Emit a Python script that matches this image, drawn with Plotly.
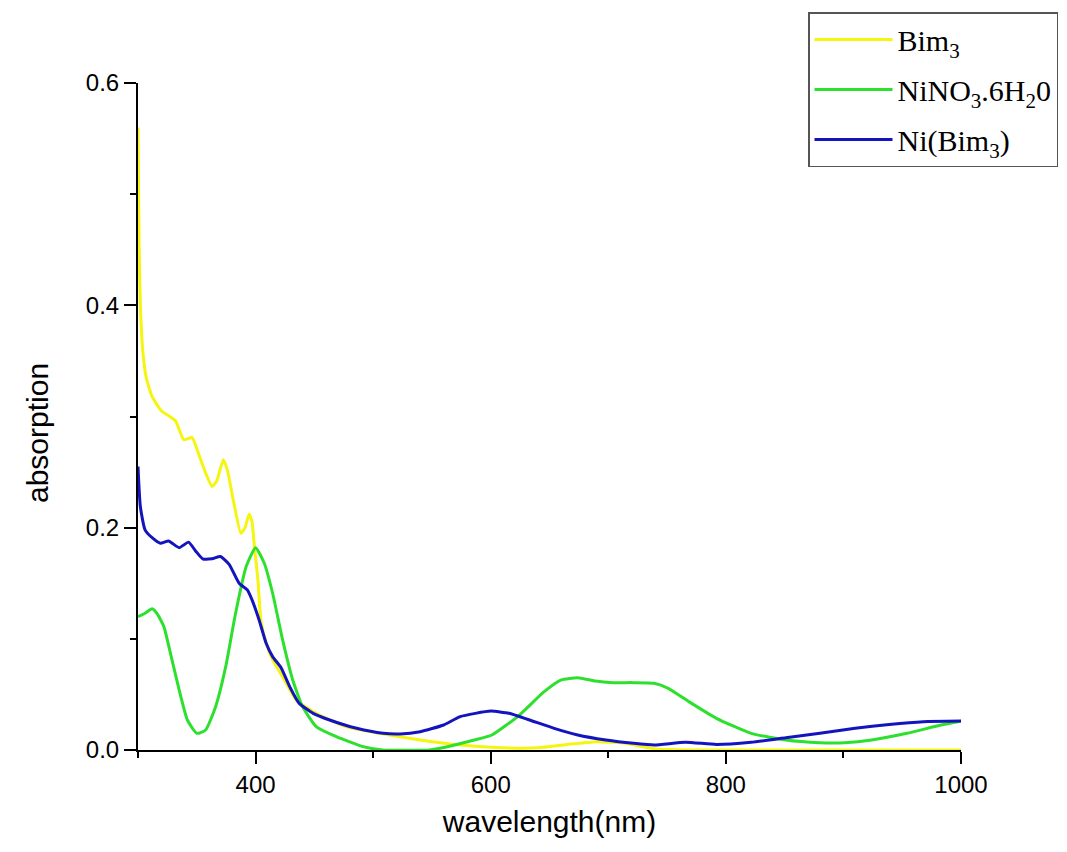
import plotly.graph_objects as go

# Bim3 (yellow)
wl_bim = [300, 300.5, 301, 302, 304, 307, 312, 320, 327, 332, 339, 346, 352, 358, 363, 367,
          372.5, 376, 381, 387.5, 391, 394.5, 397, 399, 402, 404.5, 409, 414.5, 423, 434.5,
          451.6, 477, 505, 540, 574, 610, 640, 665, 690, 715, 740, 800, 900, 1000]
abs_bim = [0.56, 0.50, 0.45, 0.40, 0.36, 0.335, 0.318, 0.305, 0.300, 0.296, 0.279, 0.281, 0.265,
           0.248, 0.237, 0.242, 0.261, 0.252, 0.225, 0.195, 0.200, 0.212, 0.205, 0.183, 0.153,
           0.117, 0.096, 0.081, 0.066, 0.045, 0.033, 0.021, 0.015, 0.009, 0.0045, 0.002, 0.002,
           0.005, 0.0075, 0.006, 0.001, 0.0, 0.0, 0.0]

# NiNO3.6H2O (green)
wl_ni = [300, 306, 312, 316, 322, 327.6, 335, 342, 350, 357.5, 366, 374.6, 383, 392, 400, 407.4,
         414.5, 423, 431.6, 440, 451.6, 468.7, 491.5, 508, 548, 557, 586, 601, 624, 645, 660, 674,
         689, 704, 721, 739, 751, 768.5, 792, 821.5, 851, 880, 901, 924, 954, 983, 1000]
abs_ni = [0.120, 0.123, 0.127, 0.123, 0.111, 0.087, 0.054, 0.027, 0.015, 0.018, 0.039, 0.075,
          0.123, 0.165, 0.182, 0.168, 0.141, 0.099, 0.063, 0.039, 0.021, 0.012, 0.003, 0.0, 0.0,
          0.0015, 0.009, 0.0135, 0.031, 0.052, 0.063, 0.065, 0.062, 0.0606, 0.0606, 0.060, 0.0555,
          0.0435, 0.0285, 0.015, 0.009, 0.0066, 0.0066, 0.009, 0.015, 0.0225, 0.026]

# Ni(Bim3) (blue)
wl_cpx = [300, 302, 306, 312, 319, 326, 335, 343, 349, 355, 363, 370, 377.5, 386, 393, 397, 403,
          409, 414.5, 421.7, 429, 437, 449, 463, 486, 508.5, 523, 540, 560, 574, 600, 615.6, 633,
          654, 674, 698, 721.5, 739, 765.6, 792, 821.5, 851, 880, 910, 939, 968, 1000]
abs_cpx = [0.255, 0.219, 0.198, 0.191, 0.186, 0.188, 0.182, 0.187, 0.179, 0.172, 0.172, 0.174,
           0.167, 0.150, 0.144, 0.135, 0.117, 0.096, 0.084, 0.074, 0.057, 0.042, 0.033, 0.027,
           0.0195, 0.015, 0.0144, 0.0165, 0.0225, 0.030, 0.035, 0.033, 0.027, 0.0195, 0.0135,
           0.009, 0.006, 0.0045, 0.007, 0.005, 0.007, 0.011, 0.015, 0.0195, 0.023, 0.0255, 0.026]

names = ["Bim<sub>3</sub>", "NiNO<sub>3</sub>.6H<sub>2</sub>0", "Ni(Bim<sub>3</sub>)"]
colors = ["#F5F510", "#2EE02E", "#1414BE"]

fig = go.Figure()
for i, (wl, ab, nm, c) in enumerate([(wl_bim, abs_bim, names[0], colors[0]),
                                     (wl_ni, abs_ni, names[1], colors[1]),
                                     (wl_cpx, abs_cpx, names[2], colors[2])]):
    fig.add_trace(go.Scatter(x=wl, y=ab, name=nm, mode="lines", legendgroup=f"g{i}",
                             line=dict(color=c, width=3, shape="spline", smoothing=0.5)))

axis_common = dict(showline=True, linecolor="black", linewidth=2, showgrid=False, zeroline=False,
                   ticks="outside", ticklen=12, tickwidth=2, tickcolor="black",
                   tickfont=dict(family="Liberation Sans, Arial", size=24, color="black"),
                   mirror=False)

fig.update_layout(
    width=1067, height=852,
    margin=dict(l=138, r=106, t=83, b=102, autoexpand=False),
    paper_bgcolor="white", plot_bgcolor="white",
    xaxis=dict(range=[300, 1000], tick0=0, dtick=200,
               minor=dict(dtick=100, ticklen=6, tickwidth=2, tickcolor="black", ticks="outside"),
               title=dict(text="wavelength(nm)", font=dict(family="Liberation Sans, Arial", size=30, color="black"),
                          standoff=14),
               **axis_common),
    yaxis=dict(range=[0, 0.6], tick0=0, dtick=0.2, tickformat=".1f",
               minor=dict(dtick=0.1, ticklen=6, tickwidth=2, tickcolor="black", ticks="outside"),
               **axis_common),
    legend=dict(x=(808 - 138) / 823, y=(750 - 12) / 667, xanchor="left", yanchor="top",
                bordercolor="#555555", borderwidth=1.5, bgcolor="white",
                font=dict(family="Liberation Serif, Times New Roman", size=30, color="black"),
                itemwidth=78, tracegroupgap=8),
    showlegend=True,
    annotations=[dict(text="absorption", x=(37 - 138) / 823, y=(750 - 433) / 667,
                      xref="paper", yref="paper", xanchor="center", yanchor="middle",
                      showarrow=False, textangle=-90,
                      font=dict(family="Liberation Sans, Arial", size=30, color="black"))],
)

fig.write_html("out.html")
